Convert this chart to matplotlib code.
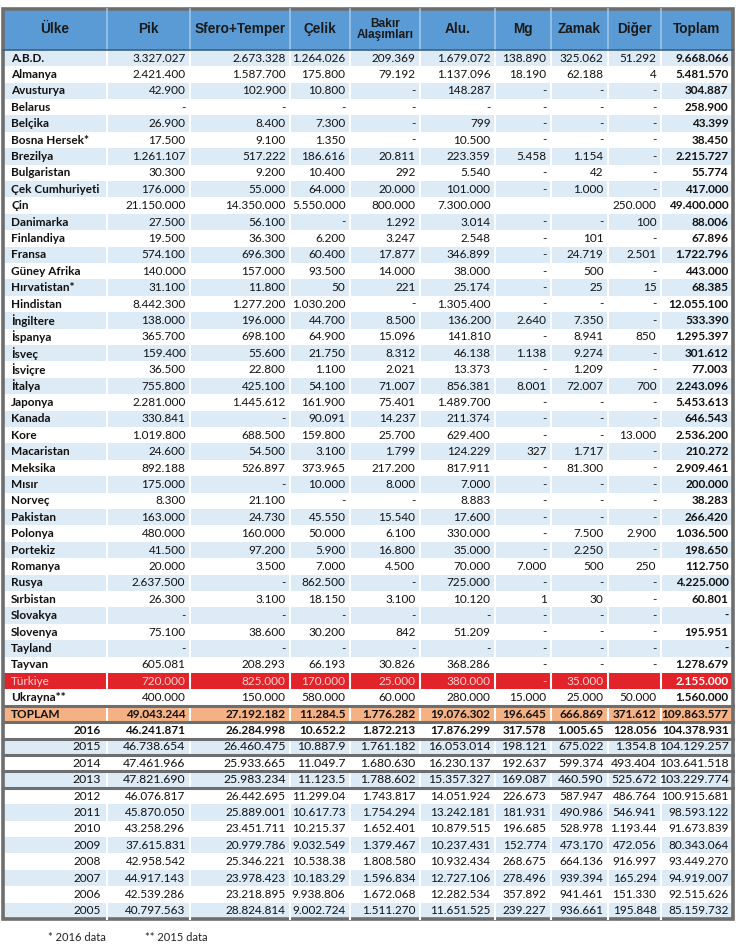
import matplotlib.pyplot as plt
from matplotlib.patches import Rectangle

# --- data (values kept as printed, Turkish thousands separators) ---
headers = ["Ülke", "Pik", "Sfero+Temper", "Çelik", "Bakır\nAlaşımları",
           "Alu.", "Mg", "Zamak", "Diğer", "Toplam"]

countries = ["A.B.D.", "Almanya", "Avusturya", "Belarus", "Belçika", "Bosna Hersek*",
             "Brezilya", "Bulgaristan", "Çek Cumhuriyeti", "Çin", "Danimarka",
             "Finlandiya", "Fransa", "Güney Afrika", "Hırvatistan*", "Hindistan",
             "İngiltere", "İspanya", "İsveç", "İsviçre", "İtalya", "Japonya", "Kanada",
             "Kore", "Macaristan", "Meksika", "Mısır", "Norveç", "Pakistan", "Polonya",
             "Portekiz", "Romanya", "Rusya", "Sırbistan", "Slovakya", "Slovenya",
             "Tayland", "Tayvan", "Türkiye", "Ukrayna**"]

pik = ["3.327.027", "2.421.400", "42.900", "-", "26.900", "17.500", "1.261.107", "30.300",
       "176.000", "21.150.000", "27.500", "19.500", "574.100", "140.000", "31.100",
       "8.442.300", "138.000", "365.700", "159.400", "36.500", "755.800", "2.281.000",
       "330.841", "1.019.800", "24.600", "892.188", "175.000", "8.300", "163.000",
       "480.000", "41.500", "20.000", "2.637.500", "26.300", "-", "75.100", "-",
       "605.081", "720.000", "400.000"]
sfero = ["2.673.328", "1.587.700", "102.900", "-", "8.400", "9.100", "517.222", "9.200",
         "55.000", "14.350.000", "56.100", "36.300", "696.300", "157.000", "11.800",
         "1.277.200", "196.000", "698.100", "55.600", "22.800", "425.100", "1.445.612",
         "-", "688.500", "54.500", "526.897", "-", "21.100", "24.730", "160.000",
         "97.200", "3.500", "-", "3.100", "-", "38.600", "-", "208.293", "825.000",
         "150.000"]
celik = ["1.264.026", "175.800", "10.800", "-", "7.300", "1.350", "186.616", "10.400",
         "64.000", "5.550.000", "-", "6.200", "60.400", "93.500", "50", "1.030.200",
         "44.700", "64.900", "21.750", "1.100", "54.100", "161.900", "90.091", "159.800",
         "3.100", "373.965", "10.000", "-", "45.550", "50.000", "5.900", "7.000",
         "862.500", "18.150", "-", "30.200", "-", "66.193", "170.000", "580.000"]
bakir = ["209.369", "79.192", "-", "-", "-", "-", "20.811", "292", "20.000", "800.000",
         "1.292", "3.247", "17.877", "14.000", "221", "-", "8.500", "15.096", "8.312",
         "2.021", "71.007", "75.401", "14.237", "25.700", "1.799", "217.200", "8.000",
         "-", "15.540", "6.100", "16.800", "4.500", "-", "3.100", "-", "842", "-",
         "30.826", "25.000", "60.000"]
alu = ["1.679.072", "1.137.096", "148.287", "-", "799", "10.500", "223.359", "5.540",
       "101.000", "7.300.000", "3.014", "2.548", "346.899", "38.000", "25.174",
       "1.305.400", "136.200", "141.810", "46.138", "13.373", "856.381", "1.489.700",
       "211.374", "629.400", "124.229", "817.911", "7.000", "8.883", "17.600", "330.000",
       "35.000", "70.000", "725.000", "10.120", "-", "51.209", "-", "368.286",
       "380.000", "280.000"]
mg = ["138.890", "18.190", "-", "-", "-", "-", "5.458", "-", "-", "", "-", "-", "-", "-",
      "-", "-", "2.640", "-", "1.138", "-", "8.001", "-", "-", "-", "327", "-", "-", "-",
      "-", "-", "-", "7.000", "-", "1", "-", "-", "-", "-", "-", "15.000"]
zamak = ["325.062", "62.188", "-", "-", "-", "-", "1.154", "42", "1.000", "", "-", "101",
         "24.719", "500", "25", "-", "7.350", "8.941", "9.274", "1.209", "72.007", "-",
         "-", "-", "1.717", "81.300", "-", "-", "-", "7.500", "2.250", "500", "-", "30",
         "-", "-", "-", "-", "35.000", "25.000"]
diger = ["51.292", "4", "-", "-", "-", "-", "-", "-", "-", "250.000", "100", "-", "2.501",
         "-", "15", "-", "-", "850", "-", "-", "700", "-", "-", "13.000", "-", "-", "-",
         "-", "-", "2.900", "-", "250", "-", "-", "-", "-", "-", "-", "", "50.000"]
toplam = ["9.668.066", "5.481.570", "304.887", "258.900", "43.399", "38.450",
          "2.215.727", "55.774", "417.000", "49.400.000", "88.006", "67.896",
          "1.722.796", "443.000", "68.385", "12.055.100", "533.390", "1.295.397",
          "301.612", "77.003", "2.243.096", "5.453.613", "646.543", "2.536.200",
          "210.272", "2.909.461", "200.000", "38.283", "266.420", "1.036.500",
          "198.650", "112.750", "4.225.000", "60.801", "-", "195.951", "-",
          "1.278.679", "2.155.000", "1.560.000"]

total_row = ["49.043.244", "27.192.182", "11.284.5", "1.776.282", "19.076.302",
             "196.645", "666.869", "371.612", "109.863.577"]

years = ["2016", "2015", "2014", "2013", "2012", "2011", "2010", "2009", "2008",
         "2007", "2006", "2005"]
y_pik = ["46.241.871", "46.738.654", "47.461.966", "47.821.690", "46.076.817",
         "45.870.050", "43.258.296", "37.615.831", "42.958.542", "44.917.143",
         "42.539.286", "40.797.563"]
y_sfero = ["26.284.998", "26.460.475", "25.933.665", "25.983.234", "26.442.695",
           "25.889.001", "23.451.711", "20.979.786", "25.346.221", "23.978.423",
           "23.218.895", "28.824.814"]
y_celik = ["10.652.2", "10.887.9", "11.049.7", "11.123.5", "11.299.04", "10.617.73",
           "10.215.37", "9.032.549", "10.538.38", "10.183.29", "9.938.806", "9.002.724"]
y_bakir = ["1.872.213", "1.761.182", "1.680.630", "1.788.602", "1.743.817",
           "1.754.294", "1.652.401", "1.379.467", "1.808.580", "1.596.834",
           "1.672.068", "1.511.270"]
y_alu = ["17.876.299", "16.053.014", "16.230.137", "15.357.327", "14.051.924",
         "13.242.181", "10.879.515", "10.237.431", "10.932.434", "12.727.106",
         "12.282.534", "11.651.525"]
y_mg = ["317.578", "198.121", "192.637", "169.087", "226.673", "181.931", "196.685",
        "152.774", "268.675", "278.496", "357.892", "239.227"]
y_zamak = ["1.005.65", "675.022", "599.374", "460.590", "587.947", "490.986",
           "528.978", "473.170", "664.136", "939.394", "941.461", "936.661"]
y_diger = ["128.056", "1.354.8", "493.404", "525.672", "486.764", "546.941",
           "1.193.44", "472.056", "916.997", "165.294", "151.330", "195.848"]
y_toplam = ["104.378.931", "104.129.257", "103.641.518", "103.229.774", "100.915.681",
            "98.593.122", "91.673.839", "80.343.064", "93.449.270", "94.919.007",
            "92.515.626", "85.159.732"]

# --- layout ---
edges = [3, 107, 190, 290, 350, 420, 495, 551, 608, 661, 733]
head_top, row_top, row_h = 9, 49.8, 16.4
blue_head, stripe = "#5B9BD5", "#DDEBF7"
red, orange, frame = "#E3232A", "#F4B183", "#6E6E6E"
FONT = "Lato"
FS = 8.5

fig = plt.figure(figsize=(7.36, 9.46), dpi=100)
ax = fig.add_axes([0, 0, 1, 1])
ax.set_xlim(0, 736)
ax.set_ylim(946, 0)
ax.axis("off")

country_cols = [pik, sfero, celik, bakir, alu, mg, zamak, diger, toplam]
year_cols = [y_pik, y_sfero, y_celik, y_bakir, y_alu, y_mg, y_zamak, y_diger, y_toplam]

rows = []  # (label, values, kind)
for i, c in enumerate(countries):
    kind = "tr" if c == "Türkiye" else ("blue" if i % 2 == 0 else "white")
    rows.append((c, [col[i] for col in country_cols], kind))
rows.append(("TOPLAM", total_row, "total"))
for j, yr in enumerate(years):
    rows.append((yr, [col[j] for col in year_cols], "yblue" if j % 2 else "ywhite"))

# header
ax.add_patch(Rectangle((edges[0], head_top), edges[-1] - edges[0], row_top - head_top,
                       facecolor=blue_head, edgecolor="none"))
for k, h in enumerate(headers):
    xc = (edges[k] + edges[k + 1]) / 2
    fs = 8.6 if "\n" in h else 9.8
    ax.text(xc, (head_top + row_top) / 2, h, ha="center", va="center", fontsize=fs,
            fontweight="bold", color="#1a1a1a", linespacing=0.95,
            family=["Liberation Sans Narrow", "Liberation Sans"])

# body
for r, (label, vals, kind) in enumerate(rows):
    top = row_top + r * row_h
    yc = top + row_h / 2
    fc = {"blue": stripe, "white": "white", "tr": red, "total": orange,
          "yblue": stripe, "ywhite": "white"}[kind]
    ax.add_patch(Rectangle((edges[0], top), edges[-1] - edges[0], row_h,
                           facecolor=fc, edgecolor="none"))
    is_year = kind in ("yblue", "ywhite")
    big = is_year and r - 41 < 4
    fs = (8.5 if label == "2016" else 8.8) if big else FS
    tcol = "#FBD3D3" if kind == "tr" else "#111111"
    if is_year:
        ax.text(edges[1] - 6, yc, label, ha="right", va="center", fontsize=fs,
                fontweight="bold" if label == "2016" else "normal", color=tcol, family=FONT)
    else:
        ax.text(edges[0] + 8, yc, label, ha="left", va="center", fontsize=FS,
                fontweight="normal" if kind == "tr" else "bold", color=tcol, family=FONT)
    for k, v in enumerate(vals):
        bold = kind == "total" or label == "2016" or (k == 8 and not is_year)
        ax.text(edges[k + 2] - 4.5, yc, v, ha="right", va="center",
                fontsize=fs, fontweight="bold" if bold else "normal",
                color="white" if (kind == "tr" and k == 8) else tcol, family=FONT)

bottom = row_top + len(rows) * row_h

# column separators
for x in edges[1:-1]:
    ax.plot([x, x], [head_top, row_top], color="#9DC3E6", lw=1.2)
    ax.plot([x, x], [row_top, bottom], color="white", lw=1.5)

ax.plot([edges[0], edges[-1]], [row_top, row_top], color="#3d5f80", lw=1.2)
for r in range(40, 46):
    yb = row_top + r * row_h
    ax.plot([edges[0], edges[-1]], [yb, yb], color=frame, lw=2.2)

ax.add_patch(Rectangle((edges[0], head_top), edges[-1] - edges[0], bottom - head_top,
                       facecolor="none", edgecolor=frame, lw=2.6))

# footnotes
ax.text(48, 937, "* 2016 data", ha="left", va="center", fontsize=8, family=FONT,
        color="#222222")
ax.text(145, 937, "** 2015 data", ha="left", va="center", fontsize=8, family=FONT,
        color="#222222")

fig.savefig("out.png", dpi=100)
